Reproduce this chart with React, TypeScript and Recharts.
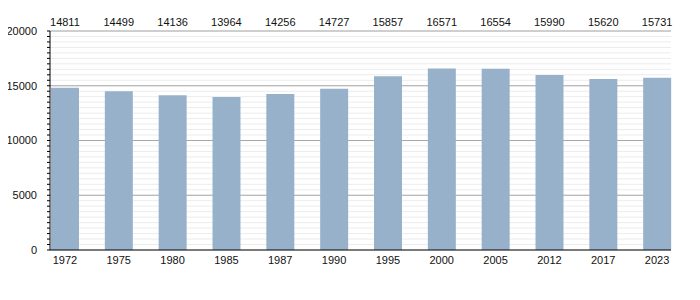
import { BarChart, Bar, XAxis, YAxis, CartesianGrid } from "recharts";

const years = ["1972", "1975", "1980", "1985", "1987", "1990", "1995", "2000", "2005", "2012", "2017", "2023"];
const population = [14811, 14499, 14136, 13964, 14256, 14727, 15857, 16571, 16554, 15990, 15620, 15731];
const majorTicks = [0, 5000, 10000, 15000, 20000];

const minorTicks: number[] = [];
for (let v = 0; v <= 20000; v += 500) minorTicks.push(v);

const data = years.map((year, i) => ({ year, population: population[i] }));
const valueByYear: Record<string, number> = {};
data.forEach((d) => (valueByYear[d.year] = d.population));

const font = { fontFamily: "'Liberation Sans', Arial, sans-serif", fontSize: 11, fill: "#111" };

export default function App() {
  return (
    <div style={{ margin: -8 }}>
      <BarChart
        width={700}
        height={280}
        data={data}
        margin={{ top: 8, right: 29, bottom: 0, left: 8 }}
      >
        <CartesianGrid vertical={false} stroke="#ececec" horizontalValues={minorTicks} />
        <CartesianGrid vertical={false} stroke="#a8a8a8" horizontalValues={majorTicks.slice(1)} />
        <XAxis
          xAxisId="bottom"
          dataKey="year"
          height={30}
          padding={{ left: -12, right: -13 }}
          axisLine={{ stroke: "#000" }}
          tickLine={false}
          tickSize={4}
          tickMargin={2}
          tick={font}
          interval={0}
        />
        <XAxis
          xAxisId="top"
          dataKey="year"
          orientation="top"
          height={23}
          padding={{ left: -12, right: -13 }}
          axisLine={false}
          tickLine={false}
          tickSize={0}
          tickMargin={5}
          tick={font}
          interval={0}
          tickFormatter={(y) => String(valueByYear[y])}
        />
        <YAxis
          width={42}
          domain={[0, 20000]}
          ticks={minorTicks}
          interval={0}
          axisLine={{ stroke: "#000" }}
          tickLine={{ stroke: "#000" }}
          tickSize={3}
          tickMargin={10}
          tick={font}
          tickFormatter={(v) => (v % 5000 === 0 ? String(v) : "")}
        />
        <Bar
          xAxisId="bottom"
          dataKey="population"
          fill="#98b1cb"
          barSize={28}
          isAnimationActive={false}
        />
      </BarChart>
    </div>
  );
}
